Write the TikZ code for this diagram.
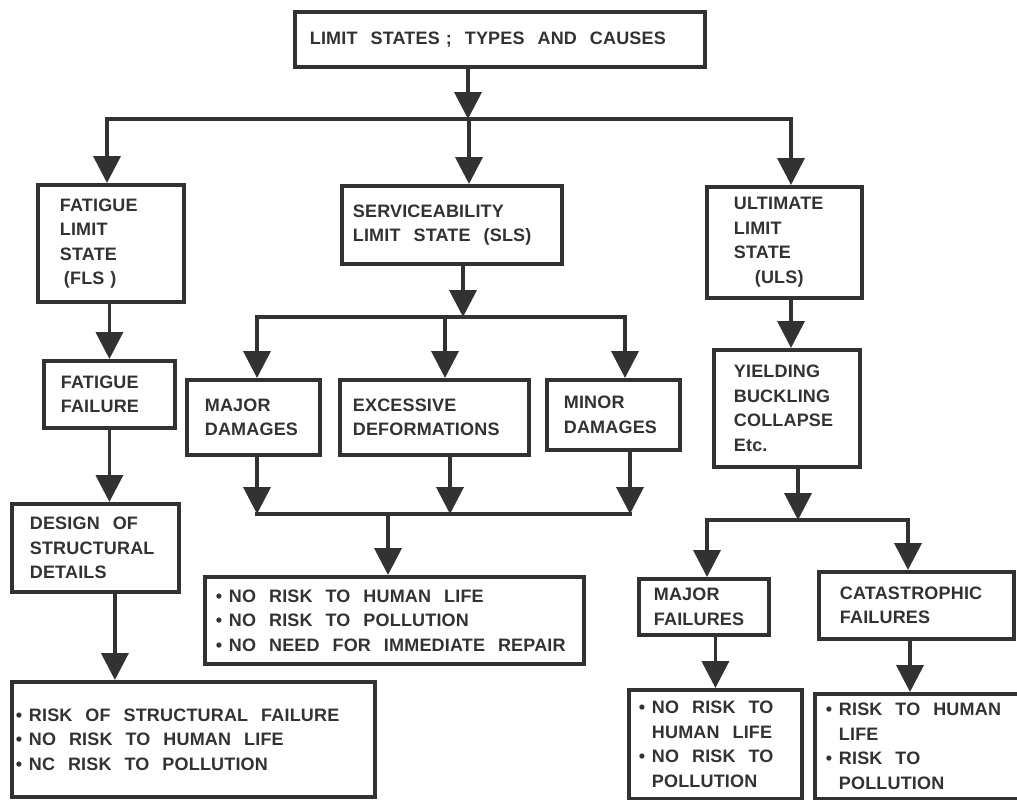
\documentclass[tikz,border=0pt]{standalone}
\usepackage{fontspec}
\newfontfamily\lab{Liberation Sans}[LetterSpace=1]
\usetikzlibrary{arrows.meta}
\definecolor{ink}{RGB}{50,50,50}
\newcommand{\bul}{\makebox[13pt][l]{\textbullet}}
\newcommand{\ind}{\hspace*{13pt}}
\newcommand{\ws}{\hspace{7pt}\ }
\newcommand{\labfont}{\lab\bfseries\fontsize{18}{24.5}\selectfont}
\begin{document}
\begin{tikzpicture}[x=1pt,y=-1pt,
  box/.style={draw=ink, line width=3.8pt, text=ink, font=\labfont,
    align=left, anchor=north west, inner ysep=0pt},
  bx/.style n args={4}{minimum width=#1pt, minimum height=#2pt, inner xsep=#3pt, text width=#4pt},
  arr/.style={draw=ink, line width=3.8pt, line cap=rect, -{Triangle[width=27pt,length=27pt]}},
  bar/.style={draw=ink, line width=3.8pt, line cap=rect}]
\useasboundingbox (0,0) rectangle (1017,800);

% boxes
\node[box, bx={410}{55}{15}{380}] (top) at (293,10) {LIMIT\ws STATES ;\ws TYPES\ws AND\ws CAUSES};
\node[box, bx={146}{117}{22}{102}] (fls) at (36,183) {FATIGUE\\LIMIT\\STATE\\\hspace*{4pt}(FLS )};
\node[box, bx={220}{78}{11}{198}] (sls) at (340,184) {SERVICEABILITY\\LIMIT\ws STATE\ws (SLS)};
\node[box, bx={155}{111}{27}{101}] (uls) at (705,185) {ULTIMATE\\LIMIT\\STATE\\\hspace*{21pt}(ULS)};
\node[box, bx={131}{67}{17}{97}] (ff) at (42,359) {FATIGUE\\FAILURE};
\node[box, bx={167}{88}{18}{131}] (des) at (10,502) {DESIGN\ws OF\\STRUCTURAL\\DETAILS};
\node[box, bx={363}{115}{4}{355}] (bl) at (10,680) {\bul RISK\ws OF\ws STRUCTURAL\ws FAILURE\\\bul NO\ws RISK\ws TO\ws HUMAN\ws LIFE\\\bul NC\ws RISK\ws TO\ws POLLUTION};
\node[box, bx={133}{75}{18}{97}] (md) at (185,378) {MAJOR\\DAMAGES};
\node[box, bx={189}{75}{13}{163}] (ed) at (338,378) {EXCESSIVE\\DEFORMATIONS};
\node[box, bx={133}{70}{17}{99}] (mi) at (545,378) {MINOR\\DAMAGES};
\node[box, bx={379}{87}{11}{357}] (mid) at (203,575) {\bul NO\ws RISK\ws TO\ws HUMAN\ws LIFE\\\bul NO\ws RISK\ws TO\ws POLLUTION\\\bul NO\ws NEED\ws FOR\ws IMMEDIATE\ws REPAIR};
\node[box, bx={146}{117}{20}{106}] (yl) at (712,348) {YIELDING\\BUCKLING\\COLLAPSE\\Etc.};
\node[box, bx={130}{56}{15}{100}] (mf) at (637,577) {MAJOR\\FAILURES};
\node[box, bx={195}{67}{21}{153}] (cf) at (817,570) {CATASTROPHIC\\FAILURES};
\node[box, bx={173}{109}{10}{153}] (r1) at (627,688) {\bul NO\ws RISK\ws TO\\\ind HUMAN\ws LIFE\\\bul NO\ws RISK\ws TO\\\ind POLLUTION};
\node[box, bx={215}{105}{11}{193}] (r2) at (813,692) {\bul RISK\ws TO\ws HUMAN\\\ind LIFE\\\bul RISK\ws TO\\\ind POLLUTION};

% junction coordinates
\coordinate (j1) at (468,119);
\coordinate (b1L) at (107,119);
\coordinate (b1M) at (469,119);
\coordinate (b1R) at (791,119);
\coordinate (b2) at (463,317);
\coordinate (b2L) at (257,317);
\coordinate (b2M) at (445,317);
\coordinate (b2R) at (625,317);
\coordinate (b3L) at (257,514);
\coordinate (b3M) at (450,514);
\coordinate (b3R) at (630,514);
\coordinate (b3O) at (388,514);
\coordinate (c4) at (791,330);
\coordinate (b4) at (798,520);
\coordinate (b4L) at (707,520);
\coordinate (b4R) at (908,520);
\coordinate (c5) at (910,660);

% top level
\draw[arr] (top.south -| j1) -- (j1);
\draw[bar] (b1L) -- (b1R);
\draw[arr] (b1L) -- (fls.north -| b1L);
\draw[arr] (b1M) -- (sls.north -| b1M);
\draw[arr] (b1R) -- (uls.north -| b1R);

% fatigue branch
\draw[arr] (fls.south -| ff.north) -- (ff.north);
\draw[arr] (ff.south) -- (ff.south |- des.north);
\draw[arr] ([xshift=19.5pt]des.south) -- ([xshift=19.5pt]des.south |- bl.north);

% serviceability branch
\draw[arr] (sls.south -| b2) -- (b2);
\draw[bar] (b2L) -- (b2R);
\draw[arr] (b2L) -- (md.north -| b2L);
\draw[arr] (b2M) -- (ed.north -| b2M);
\draw[arr] (b2R) -- (mi.north -| b2R);
\draw[arr] (md.south -| b3L) -- (b3L);
\draw[arr] (ed.south -| b3M) -- (b3M);
\draw[arr] (mi.south -| b3R) -- (b3R);
\draw[bar] (b3L) -- (b3R);
\draw[arr] (b3O) -- (mid.north -| b3O);

% ultimate branch
\draw[arr] (uls.south -| c4) -- (yl.north -| c4);
\draw[arr] (yl.south -| b4) -- (b4);
\draw[bar] (b4L) -- (b4R);
\draw[arr] (b4L) -- (mf.north -| b4L);
\draw[arr] (b4R) -- (cf.north -| b4R);
\draw[arr] (mf.south -| r1.north) -- (r1.north);
\draw[arr] (cf.south -| c5) -- (r2.north -| c5);
\end{tikzpicture}
\end{document}
